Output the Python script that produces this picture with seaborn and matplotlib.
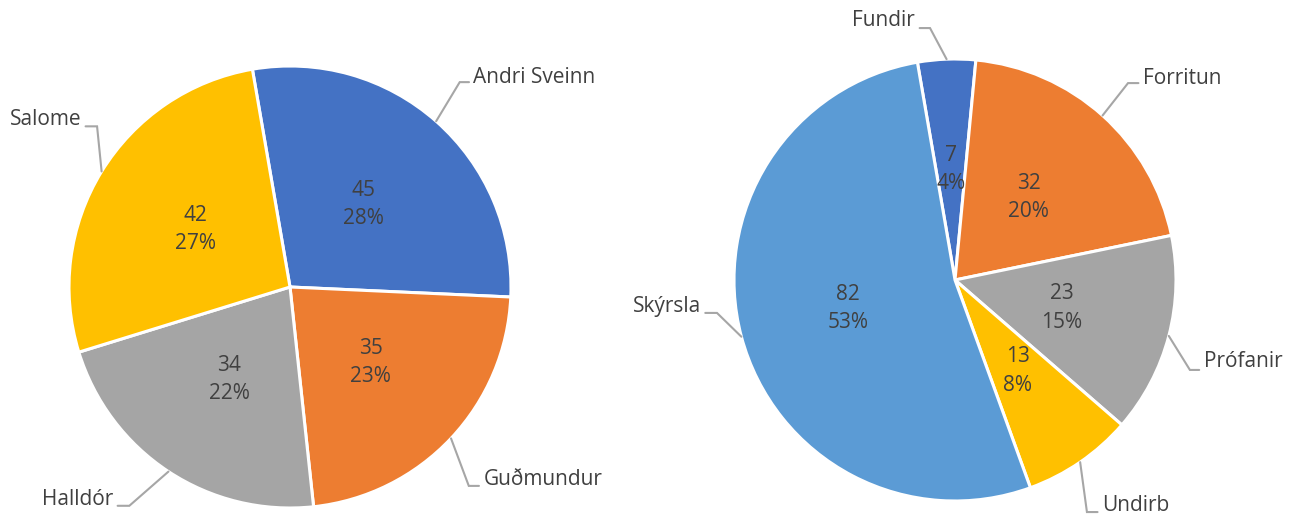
import numpy as np
import matplotlib
matplotlib.use("Agg")
import matplotlib.pyplot as plt
import seaborn as sns

# ─── DATA (hours, estimated from the slices; labels show them rounded) ──────
people = ["Andri Sveinn", "Guðmundur", "Halldór", "Salome"]
people_hours = [44.6, 35.4, 34.4, 42.4]

tasks = ["Fundir", "Forritun", "Prófanir", "Undirb", "Skýrsla"]
task_hours = [6.6, 31.6, 22.8, 12.6, 82.4]

# ─── STYLE ───────────────────────────────────────────────────────────────────
sns.set_theme(style="white")
plt.rcParams["font.family"] = ["Open Sans", "DejaVu Sans"]

office = sns.color_palette(["#4472C4", "#ED7D31", "#A5A5A5", "#FFC000", "#5B9BD5"])
TEXT = "#404040"
LEADER = "#A6A6A6"
W, H = 1301, 519
R_PX = 221
FS = 15

# outside label layout (in units of pie radius): elbow x/y, text x/y, alignment
left_layout = [(0.768, 0.927, 0.83, 0.95, "left"),
               (0.809, -0.90, 0.875, -0.87, "left"),
               (-0.727, -0.99, -0.80, -0.96, "right"),
               (-0.873, 0.727, -0.945, 0.76, "right")]
right_layout = [(-0.113, 1.14, -0.18, 1.175, "right"),
                (0.783, 0.891, 0.85, 0.914, "left"),
                (1.063, -0.407, 1.125, -0.37, "left"),
                (0.597, -1.05, 0.665, -1.02, "left"),
                (-1.077, -0.149, -1.15, -0.12, "right")]


def draw_pie(cx, cy, names, values, colors, layout):
    span = 3.0
    size = span * R_PX
    ax = fig.add_axes([(cx - size / 2) / W, 1 - (cy + size / 2) / H, size / W, size / H])
    total = sum(values)
    wedges, _ = ax.pie(values, colors=colors, startangle=99.8, counterclock=False,
                       radius=1.0, wedgeprops=dict(edgecolor="white", linewidth=2.2))
    for w, v in zip(wedges, values):
        mid = np.deg2rad((w.theta1 + w.theta2) / 2)
        ax.text(0.5 * np.cos(mid), 0.5 * np.sin(mid), f"{v:.0f}\n{v / total:.0%}",
                ha="center", va="center", fontsize=FS, color=TEXT, linespacing=1.45)
    for w, name, (bx, by, tx, ty, ha) in zip(wedges, names, layout):
        mid = np.deg2rad((w.theta1 + w.theta2) / 2)
        sx, sy = 1.0 * np.cos(mid), 1.0 * np.sin(mid)
        ex = tx - 0.02 if ha == "left" else tx + 0.02
        ax.plot([sx, bx, ex], [sy, by, by], color=LEADER, lw=1.5,
                solid_joinstyle="miter", clip_on=False)
        ax.text(tx, ty, name, ha=ha, va="center", fontsize=FS, color=TEXT)
    ax.set_xlim(-span / 2, span / 2)
    ax.set_ylim(-span / 2, span / 2)
    ax.set_aspect("equal")
    ax.axis("off")
    return ax


fig = plt.figure(figsize=(W / 100, H / 100), dpi=100)
fig.patch.set_facecolor("white")

draw_pie(290, 287, people, people_hours, office[:4], left_layout)
draw_pie(955, 280, tasks, task_hours, office[:5], right_layout)

fig.savefig("out.png", dpi=100, facecolor="white")
